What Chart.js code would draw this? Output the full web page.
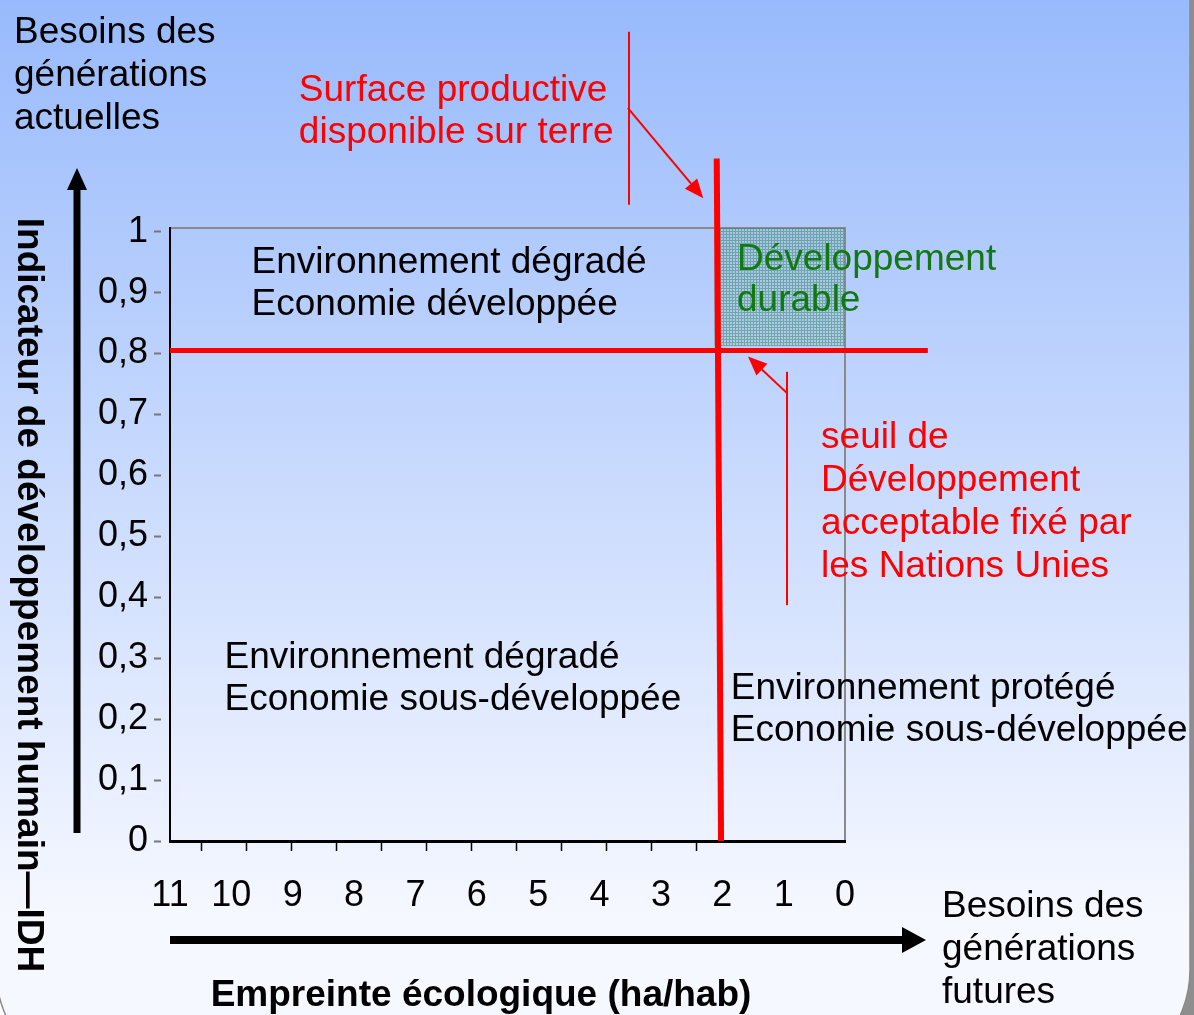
<!DOCTYPE html>
<html><head><meta charset="utf-8">
<script src="https://cdn.jsdelivr.net/npm/chart.js@4/dist/chart.umd.min.js"></script>
<style>html,body{margin:0;padding:0;overflow:hidden;background:#fff}canvas{display:block}</style>
</head><body>
<canvas id="c" width="1194" height="1015"></canvas>
<script>
// ---- data ----
const xTickValues = [11, 10, 9, 8, 7, 6, 5, 4, 3, 2, 1, 0];
const xTickLabels = ['11', '10', '9', '8', '7', '6', '5', '4', '3', '2', '1', '0'];
const yTickValues = [0, 0.1, 0.2, 0.3, 0.4, 0.5, 0.6, 0.7, 0.8, 0.9, 1];
const yTickLabels = ['0', '0,1', '0,2', '0,3', '0,4', '0,5', '0,6', '0,7', '0,8', '0,9', '1'];
const xMinorTicks = [0.71, 1.71, 2.71, 3.71, 4.71, 5.71, 6.71, 7.71, 8.71, 9.71, 10.71, 11.71];
// seuil de développement (IDH 0,8)
const seuilX = [11, -1.35];
const seuilY = [0.805, 0.805];
// surface productive disponible (≈2 ha/hab)
const surfaceX = [2.09, 2.02];
const surfaceY = [1.12, 0];
// zone de développement durable
const durableX = [2.13, 0];
const durableY = [1.006, 1.006];
const durableBottom = 0.812;

const FONT = '"Liberation Sans", Arial, sans-serif';
const RED = '#ff0000';
const GREEN = '#127812';
const DY = 3; // text baseline nudge

function pts(xs, ys) { return xs.map((x, i) => ({ x: x, y: ys[i] })); }

function makePattern() {
  const c = document.createElement('canvas');
  c.width = 3; c.height = 3;
  const g = c.getContext('2d');
  g.fillStyle = 'rgba(120,170,170,0.18)';
  g.fillRect(0, 0, 3, 3);
  g.fillStyle = 'rgba(30,120,60,0.42)';
  g.fillRect(0, 0, 3, 1);
  g.fillRect(0, 1, 1, 2);
  return document.getElementById('c').getContext('2d').createPattern(c, 'repeat');
}

function arrow(ctx, x1, y1, x2, y2, w, hl, hw, color) {
  const a = Math.atan2(y2 - y1, x2 - x1);
  const bx = x2 - hl * Math.cos(a), by = y2 - hl * Math.sin(a);
  ctx.save();
  ctx.strokeStyle = color; ctx.fillStyle = color; ctx.lineWidth = w;
  ctx.beginPath(); ctx.moveTo(x1, y1); ctx.lineTo(bx, by); ctx.stroke();
  ctx.beginPath();
  ctx.moveTo(x2, y2);
  ctx.lineTo(bx + hw * Math.sin(a), by - hw * Math.cos(a));
  ctx.lineTo(bx - hw * Math.sin(a), by + hw * Math.cos(a));
  ctx.closePath(); ctx.fill();
  ctx.restore();
}

function lines(ctx, arr, x, y, step) {
  arr.forEach((t, i) => ctx.fillText(t, x, y + DY + i * step));
}

const background = {
  id: 'background',
  beforeDraw(chart) {
    const ctx = chart.ctx, W = chart.width, H = chart.height;
    ctx.save();
    ctx.fillStyle = '#ffffff'; ctx.fillRect(0, 0, W, H);
    ctx.fillStyle = '#8e8e8e';
    ctx.fillRect(1189, 0, W - 1189, H);
    ctx.fillRect(1070, 960, W - 1070, H - 960);
    const r = 110, L = -4, R = 1190, T = -20, B = 1080;
    ctx.beginPath();
    ctx.moveTo(L, T); ctx.lineTo(R, T); ctx.lineTo(R, B - r);
    ctx.arcTo(R, B, R - r, B, r); ctx.lineTo(L + r, B);
    ctx.arcTo(L, B, L, B - r, r); ctx.closePath();
    const g = ctx.createLinearGradient(0, 0, 0, 920);
    g.addColorStop(0, 'rgb(152,186,252)');
    g.addColorStop(1, 'rgb(246,248,255)');
    ctx.fillStyle = g; ctx.fill();
    ctx.strokeStyle = '#8a8a8a'; ctx.lineWidth = 1.5; ctx.stroke();
    // plot frame (top and right, grey)
    const a = chart.chartArea;
    ctx.strokeStyle = '#8a8a8a'; ctx.lineWidth = 2;
    ctx.beginPath(); ctx.moveTo(a.left, a.top); ctx.lineTo(a.right, a.top); ctx.lineTo(a.right, a.bottom); ctx.stroke();
    ctx.restore();
  }
};

const annotations = {
  id: 'annotations',
  afterDraw(chart) {
    const ctx = chart.ctx, X = chart.scales.x, Y = chart.scales.y, a = chart.chartArea;
    const px = v => X.getPixelForValue(v), py = v => Y.getPixelForValue(v);
    ctx.save();
    ctx.textBaseline = 'middle'; ctx.textAlign = 'left';
    ctx.font = '37px ' + FONT;
    // top-left label
    ctx.fillStyle = '#000';
    lines(ctx, ['Besoins des', 'générations', 'actuelles'], 14, 30, 43);
    // quadrant labels
    lines(ctx, ['Environnement dégradé', 'Economie développée'], px(9.67), py(0.954), 42);
    lines(ctx, ['Environnement dégradé', 'Economie sous-développée'], px(10.11), py(0.305), 42);
    lines(ctx, ['Environnement protégé', 'Economie sous-développée'], px(1.86), py(0.254), 42);
    ctx.fillStyle = GREEN;
    lines(ctx, ['Développement', 'durable'], px(1.76), py(0.958), 41);
    // red annotations
    ctx.fillStyle = RED;
    lines(ctx, ['Surface productive', 'disponible sur terre'], px(8.9), py(1.236), 42);
    lines(ctx, ['seuil de', 'Développement', 'acceptable fixé par', 'les Nations Unies'], px(0.39), py(0.666), 43);
    ctx.strokeStyle = RED; ctx.lineWidth = 2;
    ctx.beginPath(); ctx.moveTo(px(3.52), py(1.328)); ctx.lineTo(px(3.52), py(1.044)); ctx.stroke();
    arrow(ctx, px(3.54), py(1.203), px(2.31), py(1.055), 2, 19, 8, RED);
    ctx.beginPath(); ctx.moveTo(px(0.945), py(0.77)); ctx.lineTo(px(0.945), py(0.387)); ctx.stroke();
    arrow(ctx, px(0.945), py(0.735), px(1.58), py(0.795), 2, 19, 8, RED);
    // axis arrows
    arrow(ctx, 77, a.bottom - 8, 77, 168, 7, 22, 10, '#000');
    arrow(ctx, 170, 940, 926, 940, 8, 24, 13, '#000');
    // x axis title
    ctx.fillStyle = '#000';
    ctx.font = 'bold 37px ' + FONT;
    ctx.textAlign = 'center';
    ctx.fillText('Empreinte écologique (ha/hab)', 481, 996);
    // right bottom label
    ctx.font = '37px ' + FONT; ctx.textAlign = 'left';
    lines(ctx, ['Besoins des', 'générations', 'futures'], 942, 904, 43);
    // y axis title (rotated)
    ctx.save();
    ctx.translate(28, 595); ctx.rotate(Math.PI / 2);
    ctx.font = 'bold 37px ' + FONT; ctx.textAlign = 'center';
    ctx.fillText('Indicateur de développement humain\u2014IDH', 0, 0);
    ctx.restore();
    ctx.restore();
  }
};

const ctx = document.getElementById('c').getContext('2d');
new Chart(ctx, {
  type: 'scatter',
  data: {
    datasets: [
      { label: 'durable', data: pts(durableX, durableY), showLine: true, borderWidth: 0, pointRadius: 0,
        borderColor: 'rgba(0,0,0,0)', backgroundColor: makePattern(), fill: { value: durableBottom }, order: 3 },
      { label: 'seuil', data: pts(seuilX, seuilY), showLine: true, borderColor: RED, borderWidth: 5,
        pointRadius: 0, clip: false, order: 2 },
      { label: 'surface', data: pts(surfaceX, surfaceY), showLine: true, borderColor: RED, borderWidth: 6,
        pointRadius: 0, clip: false, order: 1 }
    ]
  },
  options: {
    responsive: false, animation: false, devicePixelRatio: 1,
    layout: { padding: { left: 0, right: 349, top: 228, bottom: 64 } },
    plugins: { legend: { display: false }, tooltip: { enabled: false }, title: { display: false } },
    scales: {
      x: {
        type: 'linear', reverse: true, min: 0, max: 11, position: 'bottom', weight: 1,
        afterBuildTicks: s => { s.ticks = xTickValues.map(v => ({ value: v })); },
        afterFit: s => { s.height = 100; },
        grid: { display: false, drawTicks: false },
        border: { display: false },
        ticks: { padding: 23, color: '#000', font: { family: FONT, size: 36 },
          callback: v => xTickLabels[xTickValues.indexOf(v)] }
      },
      xm: {
        type: 'linear', min: 0, max: 15, position: 'bottom', weight: 0,
        afterBuildTicks: s => { s.ticks = xMinorTicks.map(v => ({ value: v })); },
        afterFit: s => { s.height = 10; },
        grid: { drawOnChartArea: false, drawTicks: true, tickLength: 10, tickColor: '#000', tickWidth: 1.5 },
        border: { display: true, color: '#000', width: 3 },
        ticks: { display: false }
      },
      y: {
        type: 'linear', min: 0, max: 1.006, position: 'left',
        afterBuildTicks: s => { s.ticks = yTickValues.map(v => ({ value: v })); },
        afterFit: s => { s.width = 170; },
        grid: { drawOnChartArea: false, drawTicks: true, tickLength: 16, tickColor: '#777', tickWidth: 2,
          tickBorderDash: [7, 40] },
        border: { display: true, color: '#000', width: 2 },
        ticks: { padding: 6, color: '#000', font: { family: FONT, size: 36 },
          callback: v => yTickLabels[yTickValues.indexOf(v)] }
      }
    }
  },
  plugins: [background, annotations]
});
</script>
</body></html>
